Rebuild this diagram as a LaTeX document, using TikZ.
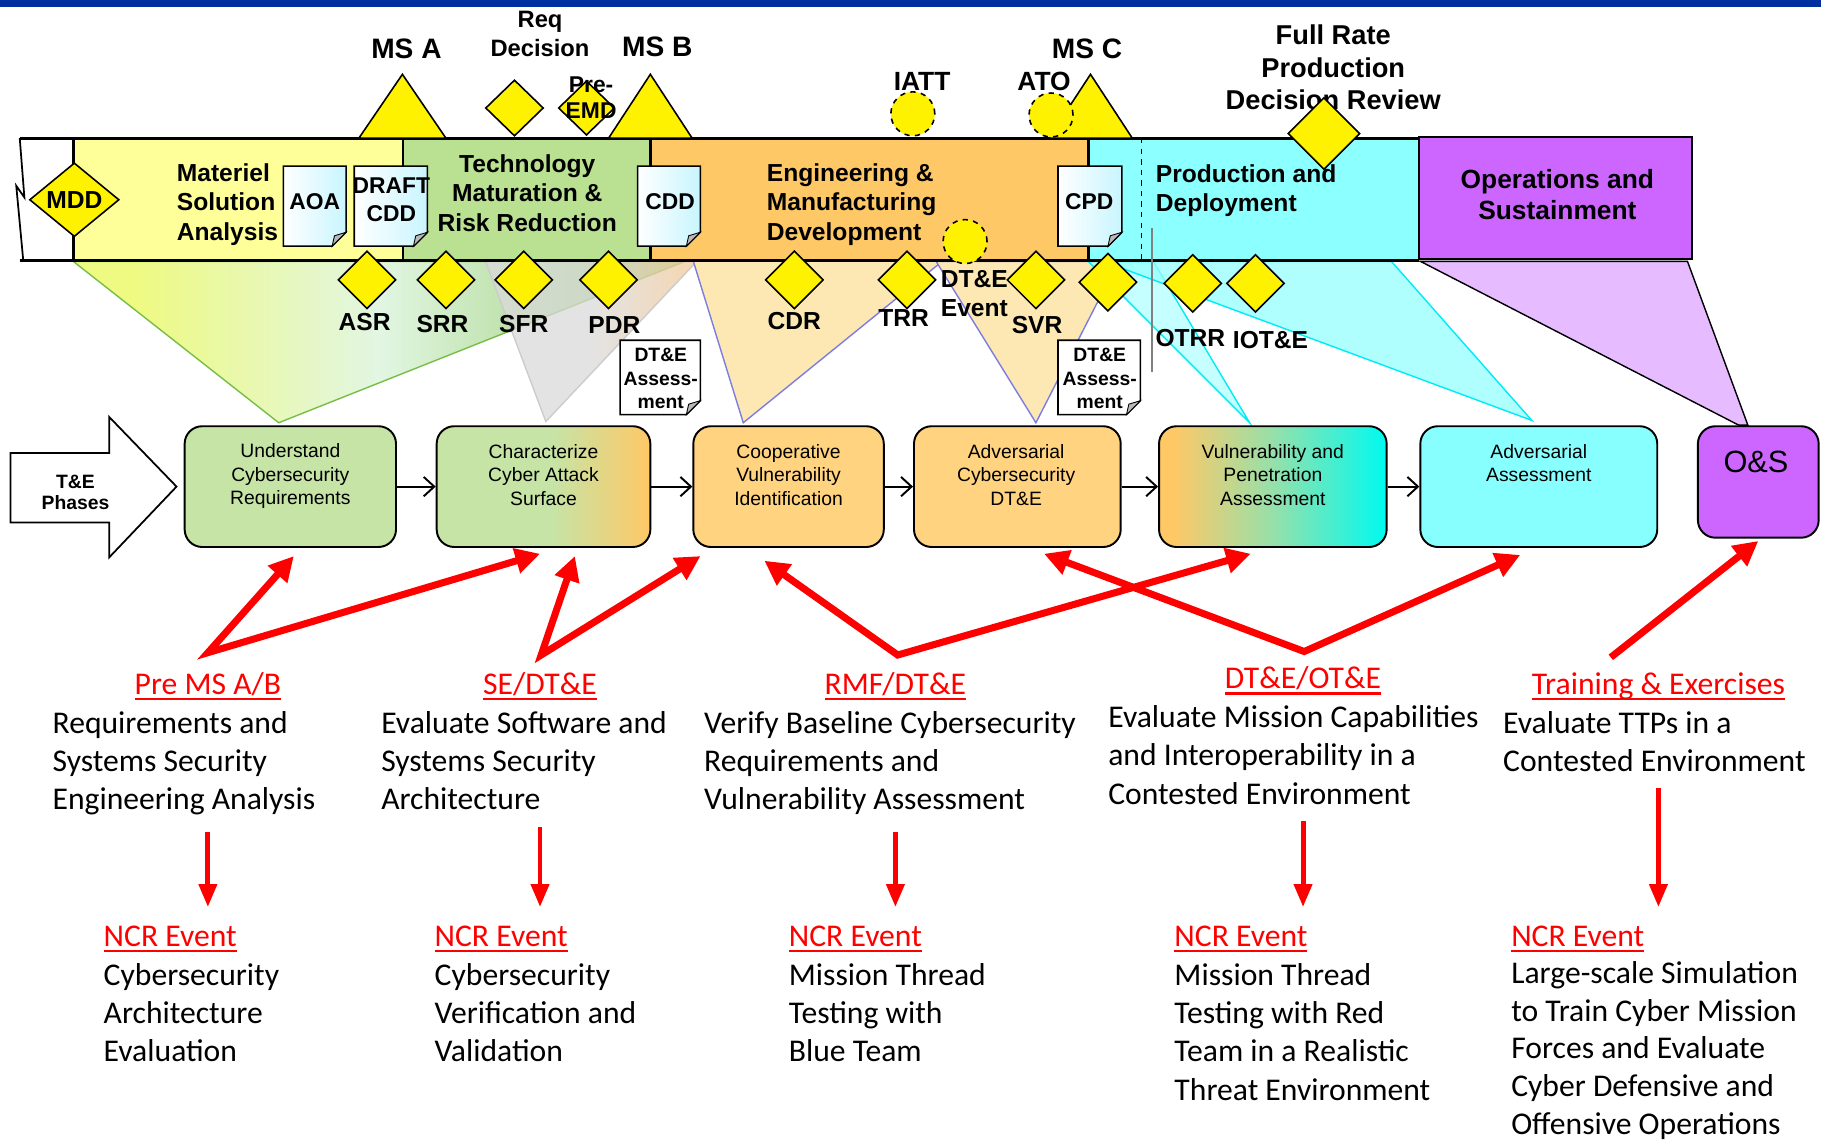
\documentclass[tikz,border=0pt]{standalone}
\usepackage{fontspec}
\setmainfont{Liberation Sans}
\newfontfamily\calfont{Carlito}
\usetikzlibrary{shapes.geometric,arrows.meta,calc,fit}

\definecolor{titleblue}{RGB}{0,48,160}
\definecolor{msayellow}{RGB}{255,255,153}
\definecolor{tmrrgreen}{RGB}{185,225,145}
\definecolor{emdorange}{RGB}{255,200,102}
\definecolor{pdcyan}{RGB}{140,255,255}
\definecolor{ospurple}{RGB}{204,102,255}
\definecolor{boxgreen}{RGB}{198,228,166}
\definecolor{boxorange}{RGB}{255,211,128}
\definecolor{boxcyan}{RGB}{136,255,255}
\definecolor{vulnmid}{RGB}{150,224,170}
\definecolor{vulnend}{RGB}{0,250,240}
\definecolor{funyellow}{RGB}{238,250,130}
\definecolor{funpale}{RGB}{226,246,226}
\definecolor{fungreen}{RGB}{168,212,138}
\definecolor{funedgegreen}{RGB}{120,190,70}
\definecolor{fungray}{RGB}{218,218,218}
\definecolor{funpeach}{RGB}{242,200,150}
\definecolor{funorange}{RGB}{253,232,180}
\definecolor{funpurple}{RGB}{230,187,255}
\definecolor{funedge}{RGB}{125,125,225}
\definecolor{funcyan}{RGB}{150,255,255}
\definecolor{funcyanedge}{RGB}{0,235,245}
\definecolor{docblue}{RGB}{200,245,255}

\pgfdeclarehorizontalshading{charshade}{100bp}{color(0bp)=(boxgreen); color(25bp)=(boxgreen); color(52bp)=(boxgreen); color(75bp)=(emdorange); color(100bp)=(emdorange)}
\pgfdeclarehorizontalshading{vulnshade}{100bp}{color(0bp)=(emdorange); color(28bp)=(emdorange); color(50bp)=(vulnmid); color(75bp)=(vulnend); color(100bp)=(vulnend)}
\pgfdeclarehorizontalshading{greenfun}{100bp}{color(0bp)=(funyellow); color(30bp)=(funyellow); color(50bp)=(funpale); color(68bp)=(fungreen); color(100bp)=(fungreen)}
\pgfdeclarehorizontalshading{grayfun}{100bp}{color(0bp)=(fungray); color(50bp)=(fungray); color(75bp)=(funpeach); color(100bp)=(funpeach)}

\tikzstyle{funnel}=[line width=0.8pt]
\tikzstyle{barline}=[line width=1.6pt]
\tikzstyle{review}=[diamond, draw, line width=0.9pt, fill=yellow, inner sep=0pt, minimum width=33pt, minimum height=33pt]
\tikzstyle{milestone}=[draw, line width=0.9pt, fill=yellow]
\tikzstyle{event}=[circle, draw, dashed, line width=0.9pt, fill=yellow, minimum size=25pt, inner sep=0pt]
\tikzstyle{mslabel}=[font=\bfseries\fontsize{14}{16.8}\selectfont, inner sep=0pt, align=center]
\tikzstyle{bigms}=[font=\bfseries\fontsize{16}{19}\selectfont, inner sep=0pt]
\tikzstyle{phasename}=[font=\bfseries\fontsize{14}{16.8}\selectfont, inner sep=0pt]
\tikzstyle{doclabel}=[font=\bfseries\fontsize{13}{15.6}\selectfont, inner sep=0pt, align=center]
\tikzstyle{assesslabel}=[font=\bfseries\fontsize{11}{13.5}\selectfont, inner sep=0pt, align=center]
\tikzstyle{phasebox}=[draw, line width=1.1pt, rounded corners=10pt, inner sep=0pt]
\tikzstyle{boxtext}=[font=\fontsize{11}{13.2}\selectfont, inner sep=0pt, align=center]
\tikzstyle{flow}=[draw, line width=1.1pt, -{Straight Barb[length=6pt,width=11pt]}]
\tikzstyle{redv}=[draw=red, line width=4pt, {Triangle[length=14pt,width=14pt]}-{Triangle[length=14pt,width=14pt]}]
\tikzstyle{redarrow}=[draw=red, line width=4pt, -{Triangle[length=14pt,width=14pt]}]
\tikzstyle{downarrow}=[draw=red, line width=2.8pt, -{Triangle[length=13pt,width=10pt]}]
\tikzstyle{heading}=[font=\calfont\fontsize{18}{21.8}\selectfont, text=red, inner sep=0pt, anchor=base]
\tikzstyle{bodytext}=[font=\calfont\fontsize{18}{21.8}\selectfont, inner sep=0pt, anchor=north west, align=left]

\newcommand{\ulred}[1]{\setbox0\hbox{#1}\rlap{\rule[-3.4pt]{\wd0}{1.5pt}}\box0}
\newcommand{\docpage}[5]{%
  \shadedraw[left color=white, right color=#5, draw=black, line width=0.9pt] (#1,#2) -- (#3,#2) -- (#3,#4-12) -- (#3-12,#4) -- (#1,#4) -- cycle;
  \filldraw[fill=gray!55, draw=black, line width=0.5pt] (#3,#4-12) -- (#3-10,#4-9) -- (#3-12,#4) -- cycle;}

\begin{document}
\begin{tikzpicture}[x=0.02322cm, y=-0.02322cm]
\useasboundingbox (0,0) rectangle (1568,984);
\draw[titleblue, line width=3.5pt] (0,3) -- (1568,3);

% funnels from the acquisition phases down to the T&E phases
\shadedraw[funnel, shading=greenfun, draw=funedgegreen] (63,225) -- (240,364) -- (590,225) -- cycle;
\shadedraw[funnel, shading=grayfun, draw=gray!40, fill opacity=0.75] (418,225) -- (470,363) -- (600,225) -- cycle;
\filldraw[funnel, fill=funorange, draw=funedge] (597,225) -- (640,364) -- (815,222) -- cycle;
\filldraw[funnel, fill=funorange, draw=funedge] (806,225) -- (892,364) -- (963,225) -- cycle;
\filldraw[funnel, fill=funcyan, fill opacity=0.55, draw=funcyanedge] (937,225) -- (1076,364) -- (993,225) -- cycle;
\filldraw[funnel, fill=funcyan, fill opacity=0.75, draw=funcyanedge] (950,225) -- (1319,362) -- (1198,225) -- cycle;
\filldraw[funnel, fill=funpurple, draw=black] (1223,225) -- (1497,366) -- (1505,366) -- (1453,225) -- cycle;

% acquisition bar
\fill[msayellow] (63,119) rectangle (347,224);
\fill[tmrrgreen] (347,119) rectangle (560,224);
\fill[emdorange] (560,119) rectangle (937,224);
\fill[pdcyan] (937,119) rectangle (1222,224);
\foreach \x in {63,347,560,937}
  \draw[barline] (\x,119) -- (\x,224);
\draw[barline] (17,119) -- (1222,119) (17,224) -- (1222,224);
\draw[line width=1pt] (17,119) -- (21,170) -- (14,160) -- (20,224);
\draw[dashed, line width=1pt] (983,119) -- (983,224);
\draw[gray, line width=0.8pt] (992,196) -- (992,320);
\draw[line width=0.8pt, fill=ospurple] (1222,118) rectangle (1457,223);

\docpage{244}{143}{298}{212}{docblue}
\docpage{305}{143}{368}{212}{docblue}
\docpage{549}{143}{603}{212}{docblue}
\docpage{911}{143}{966}{212}{docblue}
\docpage{534}{293}{603}{357}{white}
\docpage{911}{293}{982}{357}{white}
\node[doclabel] (aoa) at (271,174) {AOA};
\node[doclabel] (draftcdd) at (337,172) {DRAFT\\CDD};
\node[doclabel] (cdd) at (577,174) {CDD};
\node[doclabel] (cpd) at (938,174) {CPD};
\node[assesslabel] (assessA) at (569,326) {DT\&E\\Assess-\\ment};
\node[assesslabel] (assessB) at (947,326) {DT\&E\\Assess-\\ment};

\node[review, minimum width=51pt, minimum height=42pt] (mdd) at (64,172) {};
\node[mslabel] (mddtext) at (mdd) {MDD};

% milestones above the bar
\foreach \a/\b in {309/384, 524/596, 903/975}
  \filldraw[milestone] (\a,119) -- ({(\a+\b)/2},64) -- (\b,119) -- cycle;
\node[event] (iatt) at (786,98) {};
\node[event] (ato) at (905,99) {};
\node[review, minimum width=33pt, minimum height=32pt] (reqdec) at (443,93) {};
\node[review, minimum width=32pt, minimum height=31pt] (preemd) at (505,93) {};
\node[bigms] (msa) at (350,42) {MS A};
\node[bigms] (msb) at (566,40) {MS B};
\node[bigms] (msc) at (936,42) {MS C};
\node[mslabel, font=\bfseries\fontsize{13.5}{16.5}\selectfont] (reqtext) at (465,29.5) {Req\\Decision};
\node[mslabel, font=\bfseries\fontsize{13}{15.2}\selectfont] (preemdtext) at (509,84) {Pre-\\EMD};
\node[mslabel, font=\bfseries\fontsize{15}{18}\selectfont] (iatttext) at (794,70) {IATT};
\node[mslabel, font=\bfseries\fontsize{15}{18}\selectfont] (atotext) at (899,70) {ATO};
\node[mslabel, font=\bfseries\fontsize{15.5}{18.5}\selectfont] (frptext) at (1148,58) {Full Rate\\Production\\Decision Review};
\node[review, minimum size=41pt] (frp) at (1140,115) {};

% phase names
\node[phasename, anchor=west, align=left] (msaname) at (152,176) {Materiel\\Solution\\Analysis};
\node[phasename, align=center] (tmrrname) at (454,166) {Technology\\Maturation \&\\Risk Reduction};
\node[phasename, anchor=west, align=left] (emdname) at (660,176) {Engineering \&\\Manufacturing\\Development};
\node[phasename, anchor=west, align=left] (pdname) at (995,164) {Production and\\Deployment};
\node[phasename, font=\bfseries\fontsize{15}{18}\selectfont, align=center] (osname) at (1341,167.5) {Operations and\\Sustainment};

% reviews below the bar
\node[event] (dtevent) at (831,208) {};
\foreach \name/\x/\y in {asr/316/241, srr/384/241, sfr/451/241, pdr/524/241, cdr/684/241,
                         trr/781/241, svr/892/241, pca/954/243, otrr/1027/244, iote/1081/244}
  \node[review] (\name) at (\x,\y) {};
\foreach \name/\txt/\x/\y in {asrtext/ASR/314/277, srrtext/SRR/381/279, sfrtext/SFR/451/279,
                              pdrtext/PDR/529/280, cdrtext/CDR/684/276, trrtext/TRR/778/274,
                              svrtext/SVR/893/280, otrrtext/OTRR/1025/291, iotetext/IOT\&E/1094/293}
  \node[mslabel] (\name) at (\x,\y) {\txt};
\node[mslabel] (dteventtext) at (839,253) {DT\&E\\Event};

% T&E phases
\draw[line width=1pt, fill=white] (9,390) -- (94,390) -- (94,359) -- (152,419) -- (94,480) -- (94,450) -- (9,450) -- cycle;
\node[font=\bfseries\fontsize{11}{12}\selectfont, align=center, inner sep=0pt] (te) at (65,424) {T\&E\\Phases};

\node[phasebox, fill=boxgreen, fit={(159,367) (341,471)}] (und) {};
\node[phasebox, shade, shading=charshade, fit={(376,367) (560,471)}] (char) {};
\node[phasebox, fill=boxorange, fit={(597,367) (761,471)}] (coop) {};
\node[phasebox, fill=boxorange, fit={(787,367) (965,471)}] (advdte) {};
\node[phasebox, shade, shading=vulnshade, fit={(998,367) (1194,471)}] (vuln) {};
\node[phasebox, fill=boxcyan, fit={(1223,367) (1427,471)}] (adva) {};
\node[phasebox, fill=ospurple, fit={(1462,367) (1566,463)}] (os) {};

\node[boxtext] (undtext) at (250,410) {Understand\\Cybersecurity\\Requirements};
\node[boxtext] (chartext) at (468,409) {Characterize\\Cyber Attack\\Surface};
\node[boxtext] (cooptext) at (679,409) {Cooperative\\Vulnerability\\Identification};
\node[boxtext] (advdtetext) at (875,409) {Adversarial\\Cybersecurity\\DT\&E};
\node[boxtext] (vulntext) at (1096,409) {Vulnerability and\\Penetration\\Assessment};
\node[boxtext] (advatext) at (1325,399) {Adversarial\\Assessment};
\node[font=\fontsize{17.5}{21}\selectfont, inner sep=0pt] (ostext) at (1512,398) {O\&S};

\foreach \a/\b in {und/char, char/coop, coop/advdte, advdte/vuln, vuln/adva}
  \draw[flow] (\a) -- (\b);

% events and NCR events
\node[heading] (premsab) at (179,598) {\ulred{Pre MS A/B}};
\node[heading] (sedte) at (465,598) {\ulred{SE/DT\&E}};
\node[heading] (rmf) at (771,598) {\ulred{RMF/DT\&E}};
\node[heading] (dtot) at (1122,593) {\ulred{DT\&E/OT\&E}};
\node[heading] (train) at (1428,598) {\ulred{Training \& Exercises}};

\node[bodytext] (pbody) at (45,608) {\strut Requirements and\\Systems Security\\Engineering Analysis};
\node[bodytext] (sbody) at (328,608) {\strut Evaluate Software and\\Systems Security\\Architecture};
\node[bodytext] (rbody) at (606,608) {\strut Verify Baseline Cybersecurity\\Requirements and\\Vulnerability Assessment};
\node[bodytext] (dbody) at (954,603) {\strut Evaluate Mission Capabilities\\and Interoperability in a\\Contested Environment};
\node[bodytext] (tbody) at (1294,608) {\strut Evaluate TTPs in a\\Contested Environment};

\foreach \name/\x in {ncrA/89, ncrB/374, ncrC/679, ncrD/1011, ncrE/1301}
  \node[heading, anchor=base west] (\name) at (\x,815) {\ulred{NCR Event}};
\node[bodytext] (nbodyA) at (89,825) {\strut Cybersecurity\\Architecture\\Evaluation};
\node[bodytext] (nbodyB) at (374,825) {\strut Cybersecurity\\Verification and\\Validation};
\node[bodytext] (nbodyC) at (679,825) {\strut Mission Thread\\Testing with\\Blue Team};
\node[bodytext] (nbodyD) at (1011,825) {\strut Mission Thread\\Testing with Red\\Team in a Realistic\\Threat Environment};
\node[bodytext, font=\calfont\fontsize{18}{21.4}\selectfont] (nbodyE) at (1301,824) {\strut Large-scale Simulation\\to Train Cyber Mission\\Forces and Evaluate\\Cyber Defensive and\\Offensive Operations};

\coordinate (vpre) at (179,562);
\coordinate (vse) at (466,564);
\coordinate (vrmf) at (773,564);
\coordinate (vdtot) at (1123,561);
\coordinate (vtrain) at (1387,566);
\draw[redv] ($(und.south)+(3,7)$) -- (vpre) -- ($(char.south)+(-3,5)$);
\draw[redv] ($(char.south)+(27,7)$) -- (vse) -- ($(coop.south west)+(7,7)$);
\draw[redv] ($(coop.south west)+(62,11)$) -- (vrmf) -- ($(vuln.south)+(-19,5)$);
\draw[redv] ($(advdte.south)+(23,5)$) -- (vdtot) -- ($(adva.south)+(-16,6)$);
\draw[redarrow] (vtrain) -- ($(os.south)+(0,2)$);

\foreach \head/\body/\ncr in {premsab/pbody/ncrA, sedte/sbody/ncrB, rmf/rbody/ncrC, dtot/dbody/ncrD, train/tbody/ncrE}
  \draw[downarrow] ($(\head |- \body.south)+(0,14)$) -- ($(\head |- \ncr.north)+(0,-16)$);
\end{tikzpicture}
\end{document}
